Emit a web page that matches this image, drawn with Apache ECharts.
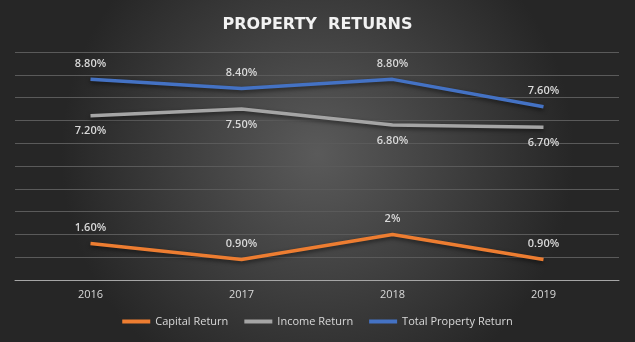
<!DOCTYPE html>
<html><head><meta charset="utf-8">
<script src="https://cdn.jsdelivr.net/npm/echarts@6/dist/echarts.min.js"></script>
<style>html,body{margin:0;padding:0;background:#2a2a2a}#c{width:635px;height:342px}</style>
</head><body><div id="c"></div>
<script>
const years = ['2016','2017','2018','2019'];
const capitalReturn = [1.6, 0.9, 2, 0.9];
const incomeReturn = [7.2, 7.5, 6.8, 6.7];
const totalReturn = [8.8, 8.4, 8.8, 7.6];
const capitalLabels = ['1.60%','0.90%','2%','0.90%'];
const incomeLabels = ['7.20%','7.50%','6.80%','6.70%'];
const totalLabels = ['8.80%','8.40%','8.80%','7.60%'];

const font = 'Open Sans';
const chart = echarts.init(document.getElementById('c'));
function mk(name, data, labels, color, pos){
  return {
    name, type:'line', data, symbol:'circle', symbolSize:0, showSymbol:true,
    lineStyle:{color, width:3.5, shadowColor:'rgba(0,0,0,0.55)', shadowBlur:4, shadowOffsetY:2},
    itemStyle:{color},
    label:{show:true, position:pos, distance:10, color:'#d9d9d9', fontSize:11, fontWeight:'600', fontFamily:font,
      formatter:p=>labels[p.dataIndex]},
    emphasis:{disabled:true}, animation:false
  };
}
chart.setOption({
  backgroundColor:{type:'radial', x:0.5, y:0.45, r:0.75,
    colorStops:[{offset:0,color:'#5a5a5a'},{offset:1,color:'#262626'}]},
  title:{text:'PROPERTY  RETURNS', left:'center', top:12,
    textStyle:{color:'#f2f2f2', fontSize:16, fontWeight:'bold', fontFamily:'DejaVu Sans'}},
  grid:{left:15, right:16, top:52, bottom:62},
  legend:{bottom:10, left:'center', icon:'rect', itemWidth:28, itemHeight:4, itemGap:16,
    textStyle:{color:'#d9d9d9', fontSize:11, fontFamily:font},
    data:['Capital Return','Income Return','Total Property Return']},
  xAxis:{type:'category', data:years, boundaryGap:true,
    axisLine:{lineStyle:{color:'#a6a6a6', width:1}}, axisTick:{show:false},
    axisLabel:{color:'#d9d9d9', fontSize:11, fontFamily:font, margin:9}},
  yAxis:{type:'value', min:0, max:10, interval:1,
    axisLabel:{show:false}, axisLine:{show:false}, axisTick:{show:false},
    splitLine:{lineStyle:{color:'#5a5a5a', width:1}}},
  series:[
    mk('Capital Return', capitalReturn, capitalLabels, '#ed7d31', 'top'),
    mk('Income Return', incomeReturn, incomeLabels, '#a5a5a5', 'bottom'),
    mk('Total Property Return', totalReturn, totalLabels, '#4472c4', 'top')
  ]
});
</script></body></html>
